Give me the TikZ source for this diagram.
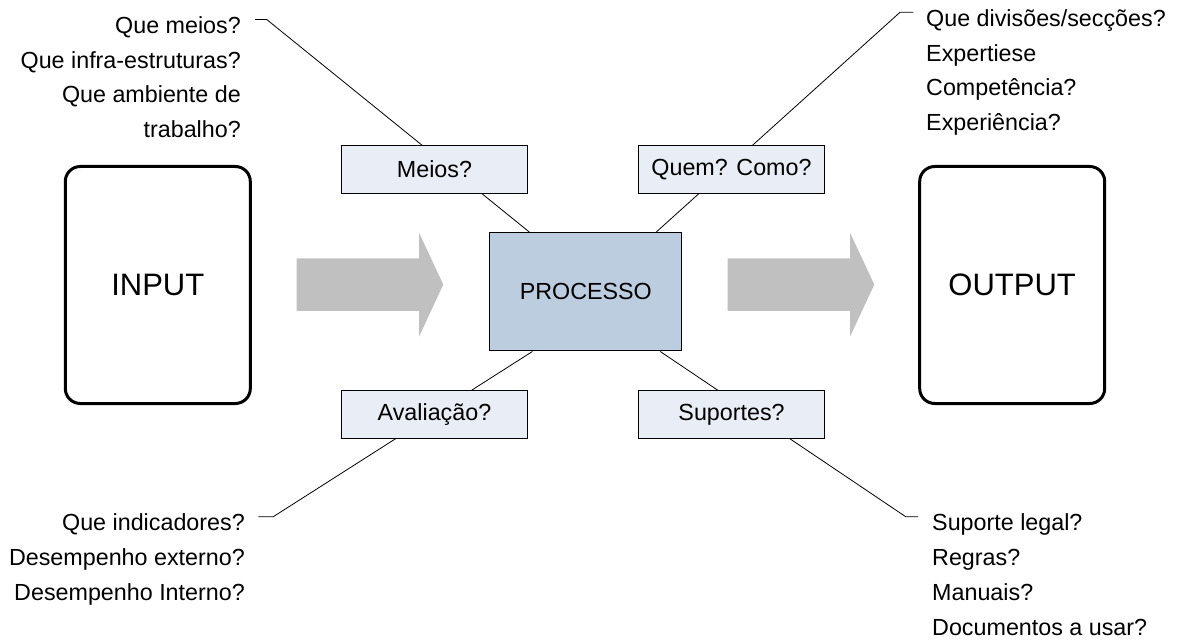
\documentclass[tikz,border=0pt]{standalone}
\usepackage{fontspec}
\setmainfont{Liberation Sans}
\usetikzlibrary{calc,backgrounds}
\definecolor{qfill}{RGB}{233,238,246}
\definecolor{pfill}{RGB}{189,205,224}
\definecolor{agray}{RGB}{192,192,192}
\begin{document}
\begin{tikzpicture}[x=1pt,y=-1pt,
  txt/.style={font=\fontsize{23.3}{28}\selectfont, inner sep=0pt, text=black},
  qbox/.style={draw=black, line width=0.9pt, fill=qfill, minimum width=185.6pt, minimum height=47.3pt, inner sep=0pt, font=\fontsize{23.3}{28}\selectfont},
  pbox/.style={draw=black, line width=1pt, fill=pfill, minimum width=191.7pt, minimum height=118.3pt, inner sep=0pt, font=\fontsize{23.3}{28}\selectfont},
  iobox/.style={draw=black, line width=3pt, rounded corners=15pt, minimum width=185pt, minimum height=237pt, inner sep=0pt, font=\fontsize{31}{36}\selectfont},
  conn/.style={draw=black, line width=0.8pt},
  bigarrow/.style={fill=agray}
]
\useasboundingbox (0,0) rectangle (1181,644);

% gray arrows
\fill[bigarrow] (296.7,258.3) -- (419,258.3) -- (419,232.7) -- (443.3,284.5) -- (419,336.7) -- (419,311) -- (296.7,311) -- cycle;
\fill[bigarrow] (727.7,258.3) -- (850,258.3) -- (850,232.7) -- (874.3,284.5) -- (850,336.7) -- (850,311) -- (727.7,311) -- cycle;

% main boxes
\node[iobox] (input) at (157.8,285) {INPUT};
\node[iobox] (output) at (1012.2,285) {OUTPUT};
\node[pbox] (proc) at (585.8,291.8) {PROCESSO};

% question boxes
\node[qbox] (meios) at (434.5,169.4) {Meios?};
\node[qbox] (quem) at (731.5,169.4) {Quem? Como?};
\node[qbox] (aval) at (434.5,414.5) {Avaliação?};
\node[qbox] (sup) at (731.6,414.5) {Suportes?};

% text blocks
\node[txt, anchor=base east] (tl1) at (241,33.5) {Que meios?};
\node[txt, anchor=base east] (tl2) at (241,68.3) {Que infra-estruturas?};
\node[txt, anchor=base east] (tl3) at (241,103) {Que ambiente de};
\node[txt, anchor=base east] (tl4) at (241,137.8) {trabalho?};

\node[txt, anchor=base west] (tr1) at (926,27) {Que divisões/secções?};
\node[txt, anchor=base west] (tr2) at (926,61.5) {Expertiese};
\node[txt, anchor=base west] (tr3) at (926,96) {Competência?};
\node[txt, anchor=base west] (tr4) at (926,130.5) {Experiência?};

\node[txt, anchor=base east] (bl1) at (245,530.5) {Que indicadores?};
\node[txt, anchor=base east] (bl2) at (245,565.5) {Desempenho externo?};
\node[txt, anchor=base east] (bl3) at (245,600.5) {Desempenho Interno?};

\node[txt, anchor=base west] (br1) at (932,530.5) {Suporte legal?};
\node[txt, anchor=base west] (br2) at (932,565.5) {Regras?};
\node[txt, anchor=base west] (br3) at (932,600.5) {Manuais?};
\node[txt, anchor=base west] (br4) at (932,635.5) {Documentos a usar?};

% hook coordinates
\coordinate (hm0) at (255,19.5);
\coordinate (hm1) at (266.7,19.5);
\coordinate (hq0) at (913.3,12.3);
\coordinate (hq1) at (900,12.3);
\coordinate (ha0) at (258.3,516.7);
\coordinate (ha1) at (273.3,516.7);
\coordinate (hs0) at (918.2,516.7);
\coordinate (hs1) at (905.7,516.7);

\begin{scope}[on background layer]
\draw[conn] (hm0) -- (hm1) -- ($(proc.north west)+(40,0)$);
\draw[conn] (hq0) -- (hq1) -- ($(proc.north east)+(-26,0)$);
\draw[conn] (ha0) -- (ha1) -- ($(proc.south west)+(43,0)$);
\draw[conn] (hs0) -- (hs1) -- ($(proc.south east)+(-22,0)$);
\end{scope}
\end{tikzpicture}
\end{document}
